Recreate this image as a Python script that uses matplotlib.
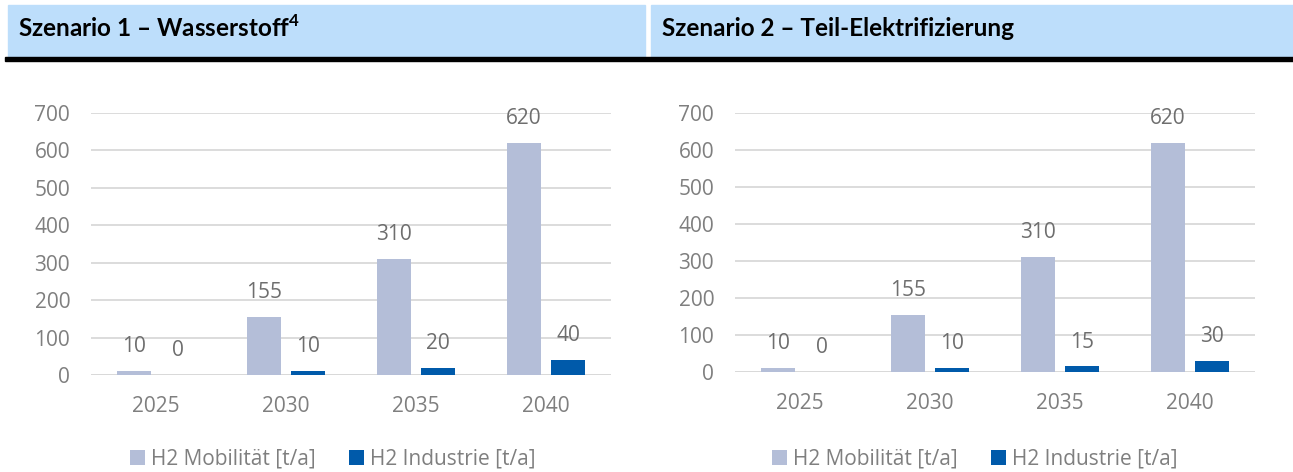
import matplotlib.pyplot as plt
from matplotlib.patches import Rectangle
import numpy as np

# Daten
jahre = ["2025", "2030", "2035", "2040"]
mobilitaet_s1 = [10, 155, 310, 620]
industrie_s1 = [0, 10, 20, 40]
mobilitaet_s2 = [10, 155, 310, 620]
industrie_s2 = [0, 10, 15, 30]
titel = ["Szenario 1 – Wasserstoff$^{\\mathbf{4}}$", "Szenario 2 – Teil-Elektrifizierung"]
serien = ["H2 Mobilität [t/a]", "H2 Industrie [t/a]"]

farbe_mob = "#B4BED8"
farbe_ind = "#005AAA"
grau = "#7F7F7F"
label_grau = "#6E6E6E"

plt.rcParams["font.family"] = ["Open Sans", "DejaVu Sans"]
plt.rcParams["mathtext.fontset"] = "custom"
plt.rcParams["mathtext.bf"] = "Lato:bold"
plt.rcParams["mathtext.rm"] = "Lato"

W, H = 1293, 472
fig = plt.figure(figsize=(W / 100, H / 100), dpi=100)

# Kopfzeilen (hellblau) und schwarze Linie
fig.patches.append(Rectangle((8 / W, 1 - 57 / H), (645 - 8) / W, 52 / H,
                             transform=fig.transFigure, color="#BDDEFB", zorder=0))
fig.patches.append(Rectangle((651 / W, 1 - 57 / H), (W - 651) / W, 52 / H,
                             transform=fig.transFigure, color="#BDDEFB", zorder=0))
fig.patches.append(Rectangle((5 / W, 1 - 61 / H), (W - 5) / W, 4 / H,
                             transform=fig.transFigure, color="black", zorder=1))
fig.text(18 / W, 1 - 28 / H, titel[0], fontsize=17.5, fontweight="bold",
         family=["Lato", "DejaVu Sans"], va="center", ha="left")
fig.text(662 / W, 1 - 28 / H, titel[1], fontsize=17.5, fontweight="bold",
         family=["Lato", "DejaVu Sans"], va="center", ha="left")

panels = [
    (mobilitaet_s1, industrie_s1, [91, 97, 520, 262], 333),
    (mobilitaet_s2, industrie_s2, [735, 100, 520, 259], 975),
]

x = np.arange(len(jahre))
breite = 0.265
versatz = 0.17

for mob, ind, (px, py, pw, ph), leg_x in panels:
    ax = fig.add_axes([px / W, py / H, pw / W, ph / H])
    b1 = ax.bar(x - versatz, mob, breite, color=farbe_mob, label=serien[0], zorder=2)
    b2 = ax.bar(x + versatz, ind, breite, color=farbe_ind, label=serien[1], zorder=2)
    for bars, werte in ((b1, mob), (b2, ind)):
        for b, v in zip(bars, werte):
            ax.annotate(str(v), (b.get_x() + b.get_width() / 2, v),
                        xytext=(0, 17.5), textcoords="offset points",
                        ha="center", va="center", fontsize=15, color=label_grau)
    ax.set_xlim(-0.5, len(jahre) - 0.5)
    ax.set_ylim(0, 700)
    ax.set_yticks(range(0, 701, 100))
    ax.set_xticks(x)
    ax.set_xticklabels(jahre)
    ax.tick_params(axis="both", length=0, labelsize=15, colors=grau)
    ax.tick_params(axis="x", pad=15)
    ax.tick_params(axis="y", pad=15)
    ax.grid(axis="y", color="#D9D9D9", linewidth=1.3, zorder=0)
    for s in ax.spines.values():
        s.set_visible(False)
    ax.axhline(0, color="#D9D9D9", linewidth=1.3, zorder=1)

    leg = ax.legend(loc="center", bbox_to_anchor=((leg_x - px) / pw, (472 - 459 - py) / ph),
                    ncol=2, frameon=False, fontsize=15, handlelength=0.7,
                    handleheight=0.7, handletextpad=0.3, columnspacing=1.6)
    for t in leg.get_texts():
        t.set_color(grau)

fig.savefig("out.png", dpi=100)
